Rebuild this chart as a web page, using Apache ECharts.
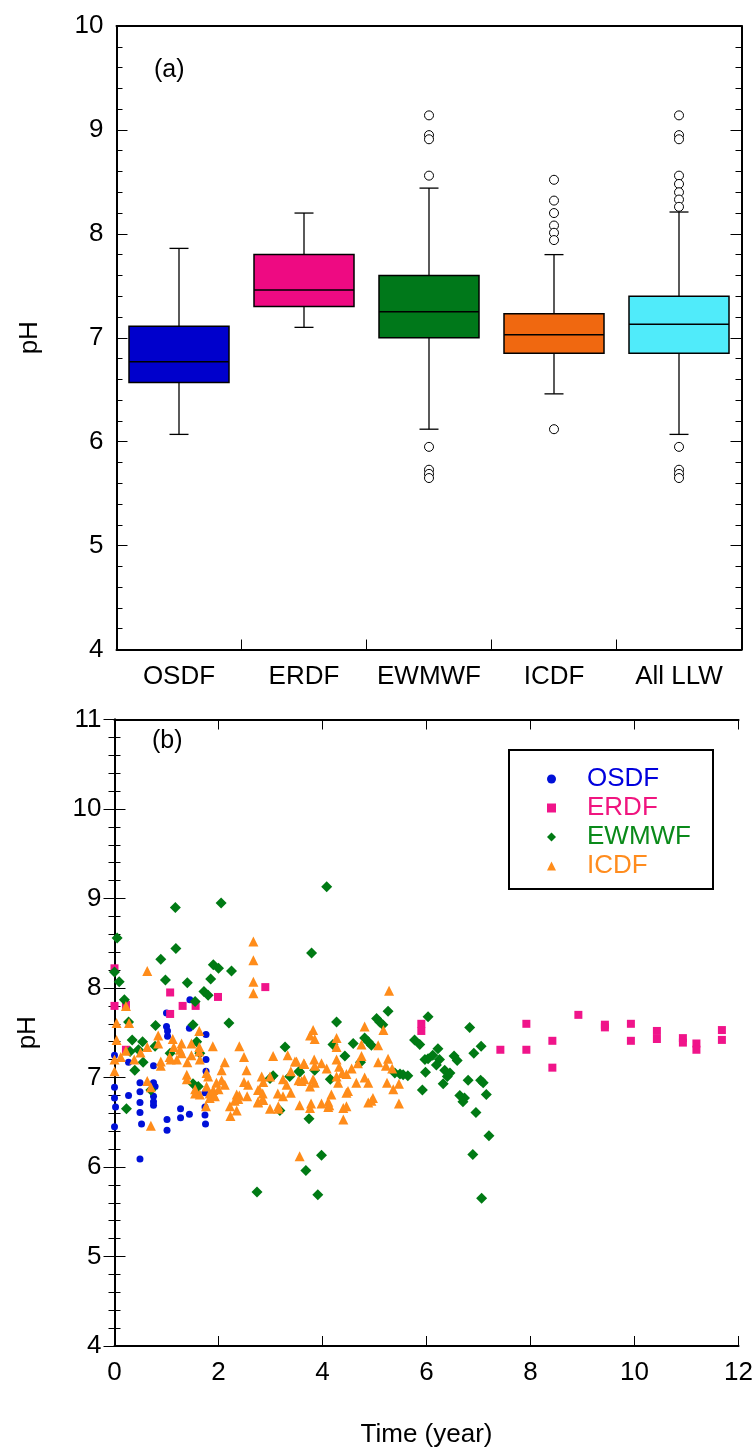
<!DOCTYPE html>
<html><head><meta charset="utf-8">
<script src="https://cdn.jsdelivr.net/npm/echarts@6/dist/echarts.min.js"></script>
<style>html,body{margin:0;padding:0;background:#fff}#c{width:756px;height:1452px}</style>
</head><body><div id="c"></div>
<script>
// ---------- Panel (a): box plots ----------
const categories = ['OSDF', 'ERDF', 'EWMWF', 'ICDF', 'All LLW'];
// [lower whisker, Q1, median, Q3, upper whisker]
const boxOSDF  = [6.07, 6.57, 6.77, 7.11, 7.86];
const boxERDF  = [7.10, 7.30, 7.46, 7.80, 8.20];
const boxEWMWF = [6.12, 7.00, 7.25, 7.60, 8.44];
const boxICDF  = [6.46, 6.85, 7.03, 7.23, 7.80];
const boxAll   = [6.07, 6.85, 7.13, 7.40, 8.21];
const outliersEWMWF = [9.14, 8.95, 8.91, 8.56, 5.95, 5.73, 5.69, 5.65];
const outliersICDF  = [8.52, 8.32, 8.20, 8.08, 8.01, 7.94, 6.12];
const outliersAll   = [9.14, 8.95, 8.91, 8.56, 8.48, 8.40, 8.33, 8.26, 5.95, 5.73, 5.69, 5.65];

// ---------- Panel (b): pH vs time [year, pH] ----------
const timeTicks = [0, 2, 4, 6, 8, 10, 12];
const osdfPoints = [
 [1.45,7.87],[1.00,7.72],[1.00,7.57],[1.02,7.52],[1.02,7.46],[1.44,7.55],[1.76,7.48],[0,7.25],[0.27,7.17],
 [0.75,7.13],[1.76,7.20],[1.76,7.07],[0.49,6.94],[0.75,6.94],[0.78,6.90],[0,6.89],[0.49,6.84],[0.75,6.79],
 [0.75,6.73],[0.75,6.69],[1.74,6.83],[0,6.77],[0.27,6.80],[0.49,6.72],[0.02,6.67],[0.49,6.61],[0,6.45],
 [0.52,6.48],[0.49,6.09],[1.01,6.53],[1.01,6.41],[1.27,6.65],[1.27,6.55],[1.44,6.59],[1.74,6.67],[1.74,6.58],[1.75,6.48]
];
const erdfPoints = [
 [0,8.22],[1.07,7.95],[0,7.80],[0.22,7.81],[1.31,7.80],[1.56,7.80],[1.07,7.71],[1.99,7.90],[0.22,7.31],[2.90,8.01],
 [5.90,7.60],[5.90,7.52],[7.42,7.31],[7.92,7.60],[7.92,7.31],[8.42,7.41],[8.42,7.11],[8.92,7.70],[9.43,7.59],[9.43,7.56],
 [9.93,7.60],[9.93,7.41],[10.43,7.52],[10.43,7.43],[10.93,7.44],[10.93,7.39],[11.19,7.38],[11.19,7.31],[11.68,7.53],[11.68,7.42]
];
const ewmwfPoints = [
 [0.05,8.56],[1.18,8.44],[0.89,8.32],[0,8.18],[0.09,8.07],[0.98,8.09],[1.40,8.06],[1.90,8.26],[2.00,8.22],[2.25,8.19],
 [1.85,8.10],[1.72,7.96],[1.80,7.92],[1.55,7.85],[0.19,7.87],[0.27,7.62],[0.79,7.58],[1.51,7.59],[2.20,7.61],[0.34,7.42],
 [0.54,7.40],[0.78,7.35],[1.58,7.40],[0.46,7.31],[0.30,7.29],[1.07,7.27],[0.55,7.17],[0.39,7.08],[1.64,7.27],[1.51,6.93],
 [1.61,6.90],[0.70,6.86],[0.23,6.65],[1.17,8.90],[2.05,8.95],[4.08,9.13],
 [3.79,8.39],[5.26,7.74],[6.03,7.68],[4.27,7.62],[5.04,7.66],[5.10,7.62],[5.16,7.59],[6.83,7.56],[7.05,7.35],[6.91,7.27],
 [4.81,7.44],[4.88,7.40],[4.94,7.36],[4.59,7.38],[4.20,7.37],[4.43,7.24],[4.73,7.17],[5.77,7.42],[5.87,7.37],[6.22,7.32],
 [6.12,7.25],[6.03,7.21],[5.97,7.20],[6.25,7.20],[6.19,7.14],[6.53,7.24],[6.59,7.19],[3.85,7.08],[3.56,7.06],[4.15,6.98],
 [5.39,7.05],[5.49,7.04],[5.55,7.03],[5.64,7.02],[5.98,7.06],[6.35,7.08],[6.45,7.05],[6.40,7.01],[6.32,6.93],[6.80,6.97],
 [7.04,6.97],[7.09,6.94],[5.92,6.86],[7.15,6.81],[6.64,6.80],[6.73,6.77],[6.70,6.73],[6.95,6.61],[3.74,6.54],[7.20,6.35],
 [6.89,6.14],[3.98,6.13],[3.68,5.96],[2.74,5.72],[3.91,5.69],[7.06,5.65],[3.18,6.63],[3.28,7.34],[3.55,7.07],[2.99,6.99],
 [3.05,7.02],[3.37,7.01]
];
const icdfPoints = [
 [0.63,8.19],[0.22,7.80],[0.04,7.61],[0.28,7.61],[0.04,7.42],[0,7.20],[0,7.07],[0.22,7.30],[0.12,7.23],[0.38,7.20],
 [0.50,7.28],[0.63,7.34],[0.84,7.38],[0.84,7.47],[0.70,6.46],[0.63,6.96],[0.70,6.89],[0.89,7.18],[0.89,7.13],[1.12,7.43],
 [1.14,7.34],[1.26,7.31],[1.20,7.20],[1.06,7.23],[1.08,7.20],[1.29,7.38],[1.29,7.27],[1.48,7.38],[1.48,7.25],[1.40,7.17],
 [1.39,7.03],[1.39,6.98],[1.63,7.52],[1.63,7.34],[1.63,7.29],[1.64,7.20],[1.89,7.35],[1.55,6.87],[1.55,6.82],[1.64,6.81],
 [1.77,7.05],[1.80,7.01],[1.77,6.90],[1.83,6.82],[1.83,6.77],[1.76,6.68],[2.06,7.08],[2.12,7.17],[1.96,6.94],[2.06,6.97],
 [2.12,6.92],[1.90,6.86],[2.00,6.87],[1.93,6.79],[2.22,6.68],[2.31,6.74],[2.35,6.81],[2.40,6.80],[2.35,6.63],[2.23,6.57],
 [2.38,6.76],[2.40,7.35],[2.49,7.23],[2.54,7.08],[2.55,6.79],[2.49,6.95],[2.57,6.92],[2.76,6.86],[2.85,6.82],[2.86,6.75],
 [2.76,6.72],[2.83,7.01],[2.86,6.95],[2.99,7.01],[3.05,7.24],[2.99,6.65],[3.15,6.65],[2.67,8.52],[2.67,8.31],[2.67,8.07],
 [2.67,7.94],[3.33,7.25],[3.24,6.98],[3.31,6.92],[3.47,7.18],[3.39,7.07],[3.54,6.97],[3.65,6.98],[3.39,6.83],[3.76,6.90],
 [3.78,6.71],[3.56,6.69],[3.98,6.71],[4.11,6.73],[4.11,6.67],[3.14,6.82],[3.24,6.79],[3.15,6.68],[3.50,7.18],[3.65,7.15],
 [3.84,7.20],[3.85,7.13],[3.98,7.16],[4.08,7.10],[2.79,6.86],[2.76,6.73],[2.84,6.75],
 [3.82,7.53],[3.76,7.47],[3.85,7.43],[4.27,7.44],[4.27,7.34],[4.81,7.57],[5.17,7.53],[5.07,7.36],[4.75,7.37],[3.64,7.16],
 [4.27,7.20],[4.32,7.12],[4.38,7.05],[4.46,7.04],[4.56,7.10],[4.75,7.24],[4.68,7.16],[5.07,7.17],[5.26,7.21],[5.22,7.13],
 [5.34,7.10],[3.60,6.96],[3.82,6.98],[3.85,6.94],[4.27,7.01],[4.30,6.94],[4.17,6.81],[4.13,6.69],[4.65,6.94],[4.88,6.94],
 [4.81,7.00],[4.49,6.85],[4.46,6.83],[5.24,6.94],[5.36,6.87],[5.47,6.93],[3.76,6.66],[4.40,6.66],[4.46,6.68],[4.88,6.72],
 [4.97,6.77],[4.94,6.74],[5.47,6.71],[4.40,6.53],[3.56,6.12],[5.28,7.97]
];

// ---------- build options ----------
const FONT = 'Liberation Sans, Arial, sans-serif';
const boxColors = ['#0000CC', '#EE0A82', '#00781A', '#F06810', '#50EBFA'];
const boxes = [boxOSDF, boxERDF, boxEWMWF, boxICDF, boxAll];
const boxData = boxes.map((b, i) => ({ value: [i].concat(b), itemStyle: { color: boxColors[i] } }));
const outlierData = [];
outliersEWMWF.forEach(v => outlierData.push([2, v]));
outliersICDF.forEach(v => outlierData.push([3, v]));
outliersAll.forEach(v => outlierData.push([4, v]));

function renderBox(params, api) {
  const c = api.value(0);
  const pLo = api.coord([c, api.value(1)]);
  const pQ1 = api.coord([c, api.value(2)]);
  const pMd = api.coord([c, api.value(3)]);
  const pQ3 = api.coord([c, api.value(4)]);
  const pHi = api.coord([c, api.value(5)]);
  const bw = api.size([1, 0])[0] * 0.8;
  const cw = bw * 0.19;
  const x = pMd[0];
  const ls = { stroke: '#000', lineWidth: 1.3 };
  return {
    type: 'group',
    children: [
      { type: 'line', shape: { x1: x, y1: pLo[1], x2: x, y2: pQ1[1] }, style: ls },
      { type: 'line', shape: { x1: x, y1: pQ3[1], x2: x, y2: pHi[1] }, style: ls },
      { type: 'line', shape: { x1: x - cw / 2, y1: pLo[1], x2: x + cw / 2, y2: pLo[1] }, style: ls },
      { type: 'line', shape: { x1: x - cw / 2, y1: pHi[1], x2: x + cw / 2, y2: pHi[1] }, style: ls },
      { type: 'rect', shape: { x: x - bw / 2, y: pQ3[1], width: bw, height: pQ1[1] - pQ3[1] },
        style: { fill: api.visual('color'), stroke: '#000', lineWidth: 1.5 } },
      { type: 'line', shape: { x1: x - bw / 2, y1: pMd[1], x2: x + bw / 2, y2: pMd[1] }, style: { stroke: '#000', lineWidth: 1.5 } }
    ]
  };
}

const axLine = { show: true, lineStyle: { color: '#000', width: 2 } };
const lbl = { color: '#000', fontSize: 26, fontFamily: FONT };
const tickIn = { show: true, inside: true, length: 11, lineStyle: { color: '#000', width: 1 } };
const minor = { show: true, splitNumber: 5, length: 6, lineStyle: { color: '#000', width: 1 } };

const option = {
  animation: false,
  backgroundColor: '#fff',
  grid: [
    { left: 116.5, top: 26, width: 625, height: 623.5 },
    { left: 114.5, top: 719.5, width: 624.5, height: 626.5 }
  ],
  xAxis: [
    { type: 'category', gridIndex: 0, data: categories, position: 'bottom', boundaryGap: true,
      axisLine: axLine, axisTick: { show: true, inside: true, length: 10, alignWithLabel: false, interval: 0, lineStyle: { color: '#000', width: 1 } },
      axisLabel: Object.assign({ margin: 14, interval: 0 }, lbl), splitLine: { show: false } },
    { type: 'category', gridIndex: 0, data: categories, position: 'top', boundaryGap: true,
      axisLine: axLine, axisTick: { show: false }, axisLabel: { show: false }, splitLine: { show: false } },
    { type: 'value', gridIndex: 1, min: 0, max: 12, interval: 2, position: 'bottom',
      axisLine: axLine, axisTick: { show: true, inside: true, length: 10, lineStyle: { color: '#000', width: 1 } },
      axisLabel: Object.assign({ margin: 14 }, lbl), splitLine: { show: false },
      name: 'Time (year)', nameLocation: 'middle', nameGap: 76, nameTextStyle: lbl },
    { type: 'value', gridIndex: 1, min: 0, max: 12, interval: 2, position: 'top',
      axisLine: axLine, axisTick: { show: true, inside: true, length: 10, lineStyle: { color: '#000', width: 1 } },
      axisLabel: { show: false }, splitLine: { show: false } }
  ],
  yAxis: [
    { type: 'value', gridIndex: 0, min: 4, max: 10, interval: 1, position: 'left',
      axisLine: axLine, axisTick: tickIn, minorTick: minor,
      axisLabel: Object.assign({ margin: 13 }, lbl), splitLine: { show: false }, minorSplitLine: { show: false },
      name: 'pH', nameLocation: 'middle', nameGap: 74, nameTextStyle: lbl },
    { type: 'value', gridIndex: 0, min: 4, max: 10, interval: 1, position: 'right',
      axisLine: axLine, axisTick: tickIn, minorTick: minor,
      axisLabel: { show: false }, splitLine: { show: false } },
    { type: 'value', gridIndex: 1, min: 4, max: 11, interval: 1, position: 'left',
      axisLine: axLine, axisTick: tickIn, minorTick: minor,
      axisLabel: Object.assign({ margin: 13 }, lbl), splitLine: { show: false },
      name: 'pH', nameLocation: 'middle', nameGap: 74, nameTextStyle: lbl },
    { type: 'value', gridIndex: 1, min: 4, max: 11, interval: 1, position: 'right',
      axisLine: axLine, axisTick: tickIn, minorTick: minor,
      axisLabel: { show: false }, splitLine: { show: false } }
  ],
  legend: {
    orient: 'vertical', left: 542, top: 761, itemWidth: 9, itemHeight: 9, itemGap: 3,
    textStyle: { fontSize: 26, fontFamily: FONT, padding: [0, 0, 0, 26] },
    data: [
      { name: 'OSDF', textStyle: { color: '#0000DD' } },
      { name: 'ERDF', textStyle: { color: '#F0157F' } },
      { name: 'EWMWF', textStyle: { color: '#0A8A1A' } },
      { name: 'ICDF', textStyle: { color: '#FF8C1E' } }
    ]
  },
  graphic: [
    { type: 'rect', shape: { x: 509, y: 750, width: 204, height: 139 }, style: { fill: 'none', stroke: '#000', lineWidth: 2 }, z: 10 },
    { type: 'text', left: 154, top: 58, style: { text: '(a)', fontSize: 25, fontFamily: FONT, fill: '#000' } },
    { type: 'text', left: 152, top: 729, style: { text: '(b)', fontSize: 25, fontFamily: FONT, fill: '#000' } }
  ],
  series: [
    { type: 'custom', xAxisIndex: 0, yAxisIndex: 0, data: boxData, renderItem: renderBox,
      encode: { x: 0, y: [1, 2, 3, 4, 5] }, silent: true },
    { type: 'scatter', xAxisIndex: 0, yAxisIndex: 0, data: outlierData, symbol: 'circle', symbolSize: 9,
      itemStyle: { color: '#fff', borderColor: '#000', borderWidth: 1, opacity: 1 }, silent: true, z: 3 },
    { name: 'OSDF', type: 'scatter', xAxisIndex: 2, yAxisIndex: 2, data: osdfPoints, symbol: 'circle', symbolSize: 7,
      itemStyle: { color: '#0010D8', opacity: 1 } },
    { name: 'ERDF', type: 'scatter', xAxisIndex: 2, yAxisIndex: 2, data: erdfPoints, symbol: 'rect', symbolSize: 8,
      itemStyle: { color: '#F0148A', opacity: 1 } },
    { name: 'EWMWF', type: 'scatter', xAxisIndex: 2, yAxisIndex: 2, data: ewmwfPoints, symbol: 'diamond', symbolSize: 11,
      itemStyle: { color: '#007A14', opacity: 1 } },
    { name: 'ICDF', type: 'scatter', xAxisIndex: 2, yAxisIndex: 2, data: icdfPoints, symbol: 'triangle', symbolSize: 10,
      itemStyle: { color: '#FF8C1A', opacity: 1 } }
  ]
};
const chart = echarts.init(document.getElementById('c'), null, { renderer: 'canvas' });
chart.setOption(option);
</script></body></html>
